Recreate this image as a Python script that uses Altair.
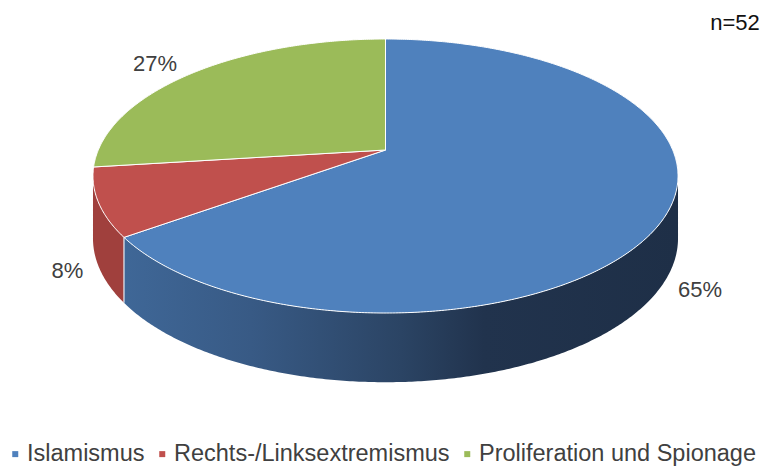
import numpy as np
import pandas as pd
import altair as alt

# ---------------- data ----------------
categories = ["Islamismus", "Rechts-/Linksextremismus", "Proliferation und Spionage"]
shares = [65, 8, 27]
pct_labels = ["65%", "8%", "27%"]
top_colors = ["#4F81BD", "#C0504D", "#9BBB59"]
sample_note = "n=52"

# ---------------- layout (page-pixel model of the tilted 3D pie) ----------------
W, H = 756, 458
CX, APEX_Y = 385.5, 150.0       # projected pie centre
A, B, G = 287.2, -103.6, 0.1898  # perspective (homography) parameters
FONT = "Liberation Sans"
TXT = "#404040"
label_offsets = {"Islamismus": (34.5, 74), "Rechts-/Linksextremismus": (-31, 68.5),
                 "Proliferation und Spionage": (-39, -8)}


def proj(phi_deg, r=1.0):
    p = np.radians(phi_deg)
    u, v = r * np.sin(p), r * np.cos(p)
    den = 1 + G * v
    return CX + A * u / den, (B * v + APEX_Y) / den


def thick(phi_deg):
    v = np.cos(np.radians(phi_deg))
    return 61 / (1 + G * v) ** 0.6


# visible front wall range
phi_right = np.degrees(np.arccos(-G))
phi_left = 360 - phi_right

top_rows, wall_rows, lab_rows, sep_rows = [], [], [], []
start = 0.0
for cat, s, lab in zip(categories, shares, pct_labels):
    end = start + s / 100 * 360
    phis = np.linspace(start, end, max(int(end - start) * 2, 3))
    i = 0
    top_rows.append(dict(cat=cat, i=i, x=CX, y=APEX_Y)); i += 1
    for ph in phis:
        x, y = proj(ph)
        top_rows.append(dict(cat=cat, i=i, x=x, y=y)); i += 1
    top_rows.append(dict(cat=cat, i=i, x=CX, y=APEX_Y))
    # wall
    a0, a1 = max(start, phi_right), min(end, phi_left)
    if a1 > a0:
        for ph in np.linspace(a0, a1, max(int(a1 - a0) * 2, 3)):
            x, y = proj(ph)
            wall_rows.append(dict(cat=cat, x=x, y=y, y2=y + thick(ph)))
    # label
    mx, my = proj((start + end) / 2)
    dx, dy = label_offsets[cat]
    lab_rows.append(dict(cat=cat, x=mx + dx, y=my + dy, label=lab))
    # visible slice boundary on wall
    if phi_right < end < phi_left:
        x, y = proj(end)
        sep_rows.append(dict(k=0, x=x, y=y))
        sep_rows.append(dict(k=1, x=x, y=y + thick(end)))
    start = end

top_df = pd.DataFrame(top_rows)
wall_df = pd.DataFrame(wall_rows)
lab_df = pd.DataFrame(lab_rows)
sep_df = pd.DataFrame(sep_rows)
note_df = pd.DataFrame([dict(x=735, y=22.5, label=sample_note)])

xs = alt.Scale(domain=[8, 8 + W], nice=False, zero=False)
ys = alt.Scale(domain=[8 + H, 8], nice=False, zero=False)
X = lambda f="x": alt.X(f"{f}:Q", scale=xs, axis=None)
Y = lambda f="y": alt.Y(f"{f}:Q", scale=ys, axis=None)

blue_grad = alt.Gradient(
    gradient="linear", x1=0, x2=1, y1=0, y2=0,
    stops=[alt.GradientStop(color="#3F6797", offset=0),
           alt.GradientStop(color="#385A85", offset=0.23),
           alt.GradientStop(color="#2B4464", offset=0.5),
           alt.GradientStop(color="#21334D", offset=0.65),
           alt.GradientStop(color="#1E2F47", offset=1)])

wall_blue = alt.Chart(wall_df).transform_filter(
    alt.datum.cat == categories[0]).mark_area(color=blue_grad).encode(
    x=X(), y=Y(), y2="y2:Q")
wall_red = alt.Chart(wall_df).transform_filter(
    alt.datum.cat == categories[1]).mark_area(color="#A0403D").encode(
    x=X(), y=Y(), y2="y2:Q")
sep = alt.Chart(sep_df).mark_line(color="#E8EEF5", strokeWidth=1.2).encode(
    x=X(), y=Y(), order="k:Q")

tops = alt.Chart(top_df).mark_line(
    filled=True, stroke="white", strokeWidth=1, strokeJoin="round").encode(
    x=X(), y=Y(), order="i:Q",
    color=alt.Color("cat:N", scale=alt.Scale(domain=categories, range=top_colors),
                    legend=alt.Legend(
                        orient="none", legendX=-4.5, legendY=434, direction="horizontal",
                        title=None, symbolType="square", symbolSize=36,
                        symbolStrokeWidth=0, labelFont=FONT, labelFontSize=23.5,
                        labelColor=TXT, labelOffset=0, columnPadding=5,
                        labelLimit=400, padding=0)))

labels = alt.Chart(lab_df).mark_text(
    font=FONT, fontSize=22, color=TXT, align="center", baseline="middle").encode(
    x=X(), y=Y(), text="label:N")
note = alt.Chart(note_df).mark_text(
    font=FONT, fontSize=22, color="#111111", align="center", baseline="middle").encode(
    x=X(), y=Y(), text="label:N")

chart = alt.layer(wall_blue, wall_red, sep, tops, labels, note).properties(
    width=W, height=H, autosize=alt.AutoSizeParams(type="none"), padding=0
).configure_view(stroke=None)

chart.save("out.html", embed_options={"renderer": "svg", "actions": False})
